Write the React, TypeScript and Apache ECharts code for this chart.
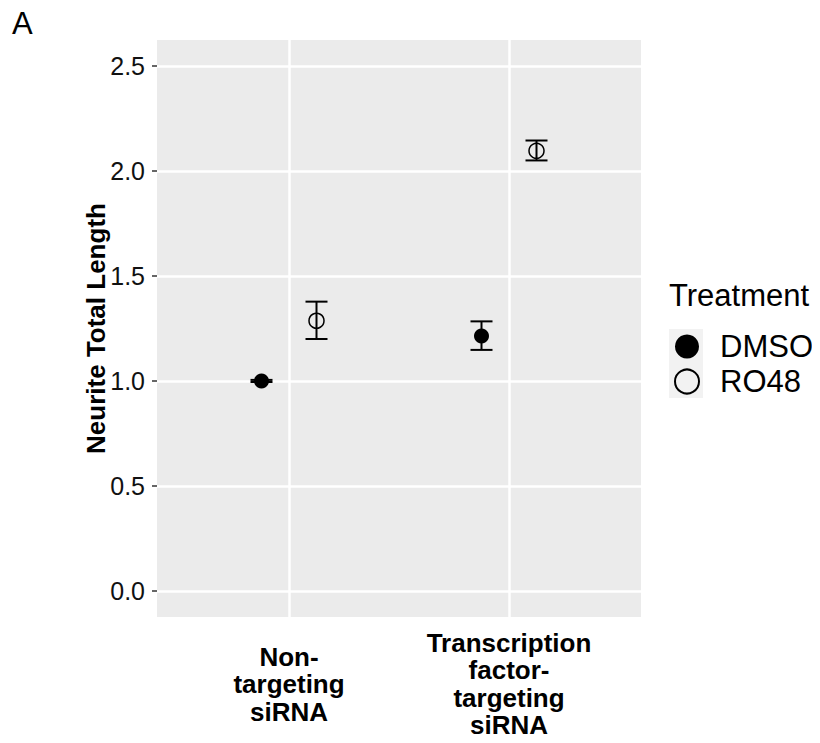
import React, { useEffect, useRef } from "react";
import * as echarts from "echarts";

const categories = ["Non-\ntargeting\nsiRNA", "Transcription\nfactor-\ntargeting\nsiRNA"];
const treatments = ["DMSO", "RO48"];
const dmsoMean = [1.0, 1.214];
const dmsoLow = [0.995, 1.148];
const dmsoHigh = [1.005, 1.284];
const ro48Mean = [1.287, 2.097];
const ro48Low = [1.2, 2.051];
const ro48High = [1.378, 2.146];
const yTicks = [0, 0.5, 1.0, 1.5, 2.0, 2.5];

const FONT = "'Liberation Sans', Arial, Helvetica, sans-serif";
const DODGE = 0.125;

export default function App() {
  const ref = useRef<HTMLDivElement>(null);
  useEffect(() => {
    if (!ref.current) return;
    const chart = echarts.init(ref.current, null, { renderer: "svg" });
    const catPos = categories.map((_, i) => i + 1);
    const dmsoPts = catPos.map((c, i) => [c - DODGE, dmsoMean[i]]);
    const ro48Pts = catPos.map((c, i) => [c + DODGE, ro48Mean[i]]);
    const errData = [
      ...catPos.map((c, i) => [c - DODGE, dmsoLow[i], dmsoHigh[i]]),
      ...catPos.map((c, i) => [c + DODGE, ro48Low[i], ro48High[i]]),
    ];
    const lineStyle = { stroke: "#000", lineWidth: 2 };
    chart.setOption({
      animation: false,
      grid: {
        left: 157,
        top: 40,
        right: 179,
        bottom: 126,
        show: true,
        backgroundColor: "#EBEBEB",
        borderWidth: 0,
      },
      xAxis: {
        type: "value",
        min: 0.4,
        max: 2.6,
        axisLine: { show: false },
        axisTick: { show: false, customValues: catPos },
        axisLabel: {
          customValues: catPos,
          formatter: (v: number) => categories[Math.round(v) - 1] ?? "",
          fontFamily: FONT,
          fontSize: 26,
          fontWeight: "bold",
          color: "#000",
          lineHeight: 27.5,
          verticalAlign: "middle",
          align: "center",
          margin: 67,
        },
        splitLine: { show: true, lineStyle: { color: "#fff", width: 2.5 } },
      },
      yAxis: {
        type: "value",
        min: -0.125,
        max: 2.625,
        name: "Neurite Total Length",
        nameLocation: "middle",
        nameGap: 48,
        nameRotate: 90,
        nameMoveOverlap: false,
        nameTextStyle: { fontFamily: FONT, fontSize: 26, fontWeight: "bold", color: "#000" },
        axisLine: { show: false },
        axisTick: { show: true, customValues: yTicks, length: 5, lineStyle: { color: "#333", width: 1.5 } },
        axisLabel: {
          customValues: yTicks,
          formatter: (v: number) => v.toFixed(1),
          fontFamily: FONT,
          fontSize: 25,
          color: "#111",
          margin: 12,
        },
        splitLine: { show: true, lineStyle: { color: "#fff", width: 2.5 } },
      },
      legend: {
        data: treatments,
        orient: "vertical",
        left: 674,
        top: 329,
        padding: 0,
        itemWidth: 24,
        itemHeight: 24,
        itemGap: 0,
        icon: "circle",
        textStyle: { fontFamily: FONT, fontSize: 31, color: "#000", lineHeight: 35, padding: [0, 0, 0, 16] },
      },
      graphic: [
        { type: "text", left: 12, top: 8, style: { text: "A", font: `31px ${FONT}`, fill: "#000" } },
        { type: "text", left: 669, top: 280, style: { text: "Treatment", font: `31px ${FONT}`, fill: "#000" } },
        { type: "rect", left: 669, top: 329, z: -1, shape: { width: 34, height: 35 }, style: { fill: "#F2F2F2" } },
        { type: "rect", left: 669, top: 364, z: -1, shape: { width: 34, height: 34 }, style: { fill: "#F2F2F2" } },
      ],
      series: [
        {
          type: "custom",
          name: "errorbars",
          z: 2,
          data: errData,
          encode: { x: 0, y: [1, 2] },
          renderItem: (params: any, api: any) => {
            const x = api.value(0);
            const lo = api.value(1);
            const hi = api.value(2);
            const pLo = api.coord([x, lo]);
            const pHi = api.coord([x, hi]);
            const half = api.size([0.05, 0])[0];
            return {
              type: "group",
              children: [
                { type: "line", shape: { x1: pLo[0], y1: pHi[1], x2: pLo[0], y2: pLo[1] }, style: lineStyle },
                { type: "line", shape: { x1: pLo[0] - half, y1: pHi[1], x2: pLo[0] + half, y2: pHi[1] }, style: lineStyle },
                { type: "line", shape: { x1: pLo[0] - half, y1: pLo[1], x2: pLo[0] + half, y2: pLo[1] }, style: lineStyle },
              ],
            };
          },
        },
        {
          type: "scatter",
          name: "DMSO",
          z: 3,
          symbol: "circle",
          symbolSize: 15,
          data: dmsoPts,
          itemStyle: { color: "#000", opacity: 1 },
        },
        {
          type: "scatter",
          name: "RO48",
          z: 3,
          symbol: "circle",
          symbolSize: 15,
          data: ro48Pts,
          itemStyle: { color: "rgba(0,0,0,0)", borderColor: "#000", borderWidth: 1.5, opacity: 1 },
        },
      ],
    });
    return () => chart.dispose();
  }, []);
  return <div ref={ref} style={{ width: 820, height: 743, margin: -8 }} />;
}
